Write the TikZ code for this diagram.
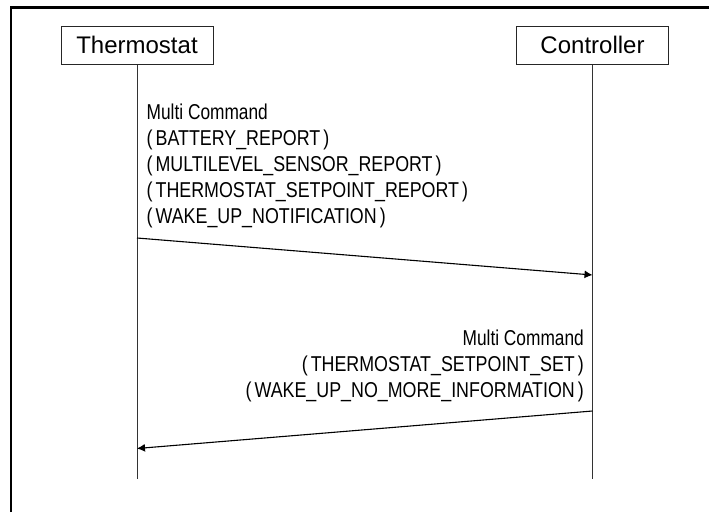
\documentclass[tikz,border=0pt]{standalone}
\usepackage{fontspec}
\usepackage{graphicx}
\setmainfont{Liberation Sans}
\usetikzlibrary{arrows.meta}
\newcommand{\pgap}{\hspace{0.17em}}
\newcommand{\mcmd}{\scalebox{0.97}[1]{Multi Command}}
\tikzset{
  actor/.style={draw=black!85,line width=1pt,fill=white,minimum width=152pt,minimum height=37.5pt,inner sep=0pt,font=\fontsize{24}{26}\selectfont},
  life/.style={draw=black!80,line width=1pt},
  msg/.style={draw=black,line width=1.1pt,-{Latex[length=8pt,width=8pt]}},
  note/.style={inner sep=0pt,xscale=0.83,transform shape,font=\fontsize{21.5}{26}\selectfont},
  frameline/.style={draw=black,line width=2.2pt}
}
\begin{document}
\begin{tikzpicture}[x=1pt,y=-1pt]
\useasboundingbox (0,0) rectangle (709,512);
\coordinate (fa) at (11.2,512);
\coordinate (fb) at (11.2,7.5);
\coordinate (fc) at (709,7.5);
\draw[frameline] (fa) -- (fb) -- (fc);
\node[actor] (thermo) at (137,45.3) {Thermostat};
\node[actor] (ctrl) at (592.5,45.3) {Controller};
\coordinate (thermoend) at (137,479);
\coordinate (ctrlend) at (592.5,479);
\draw[life] (thermo.south) -- (thermoend);
\draw[life] (ctrl.south) -- (ctrlend);
\coordinate (m1a) at (137,238);
\coordinate (m1b) at (592.5,275);
\coordinate (m2a) at (592.5,411);
\coordinate (m2b) at (137,448.5);
\draw[msg] (m1a) -- (m1b);
\draw[msg] (m2a) -- (m2b);
\node[note,anchor=north west,align=left] (t1) at (146.5,104) {\mcmd\\(\pgap BATTERY\_REPORT\pgap)\\(\pgap MULTILEVEL\_SENSOR\_REPORT\pgap)\\(\pgap THERMOSTAT\_SETPOINT\_REPORT\pgap)\\(\pgap WAKE\_UP\_NOTIFICATION\pgap)};
\node[note,anchor=north east,align=right] (t2) at (584,330) {\mcmd\\(\pgap THERMOSTAT\_SETPOINT\_SET\pgap)\\(\pgap WAKE\_UP\_NO\_MORE\_INFORMATION\pgap)};
\end{tikzpicture}
\end{document}
